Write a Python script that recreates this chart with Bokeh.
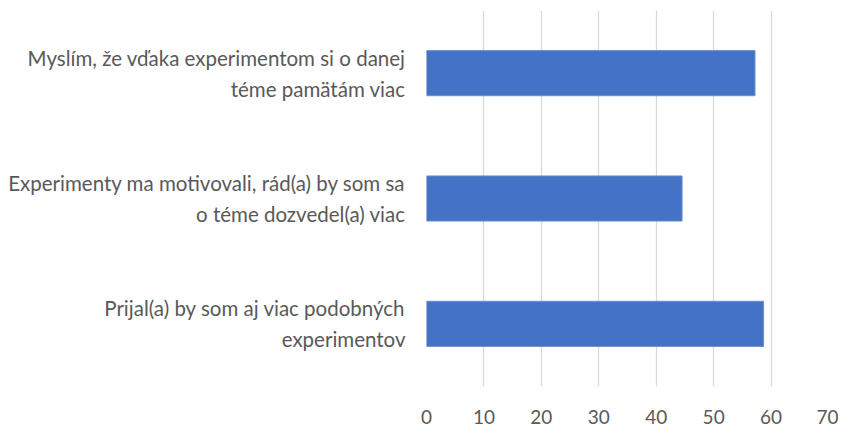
from bokeh.plotting import figure
from bokeh.models import FactorRange, Range1d, FixedTicker
from bokeh.embed import file_html
from bokeh.resources import INLINE

categories = [
    "Prijal(a) by som aj viac podobných\nexperimentov",
    "Experimenty ma motivovali, rád(a) by som sa\no téme dozvedel(a) viac",
    "Myslím, že vďaka experimentom si o danej\ntéme pamätám viac",
]
values = [58.7, 44.5, 57.2]
x_ticks = [0, 10, 20, 30, 40, 50, 60, 70]

FONT = "Lato"
TXT = "#595959"

p = figure(
    width=838, height=426,
    y_range=FactorRange(*categories, range_padding=0),
    x_range=Range1d(0, 70),
    output_backend="svg", toolbar_location=None,
    min_border_left=426, min_border_right=10, min_border_top=10, min_border_bottom=38,
)
p.hbar(y=categories, right=values, height=0.36, left=0,
       fill_color="#4472C4", line_color="#6b8fd0", line_width=1)

p.outline_line_color = None
p.xgrid.ticker = FixedTicker(ticks=x_ticks)
p.xaxis.ticker = FixedTicker(ticks=x_ticks)
p.xgrid.grid_line_color = "#d9d9d9"
p.xgrid.grid_line_width = 1.3
p.ygrid.grid_line_color = None

for ax in (p.xaxis[0], p.yaxis[0]):
    ax.axis_line_color = None
    ax.major_tick_line_color = None
    ax.minor_tick_line_color = None
    ax.major_label_text_font = FONT
    ax.major_label_text_color = TXT

p.xaxis.major_label_text_font_size = "19px"
p.yaxis.major_label_text_font_size = "20.5px"
p.yaxis.major_label_text_line_height = 1.3
p.yaxis.major_label_text_align = "center"
p.xaxis.major_label_standoff = 17
p.yaxis.major_label_standoff = 15

open("out.html", "w").write(file_html(p, INLINE))
